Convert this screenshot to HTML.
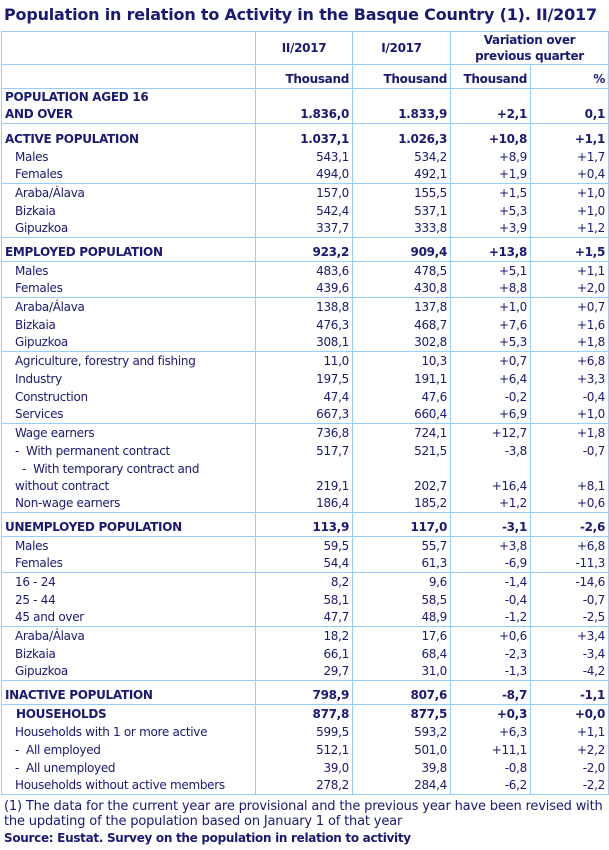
<!DOCTYPE html>
<html><head><meta charset="utf-8">
<style>
html,body{margin:0;padding:0;background:#fff;width:609px;height:850px;overflow:hidden}
body{font-family:"DejaVu Sans","Liberation Sans",sans-serif;color:#1a1a6e;font-size:12px}
.title{position:absolute;left:4px;top:5px;font-size:16px;font-weight:bold;white-space:nowrap;letter-spacing:-0.2px}
table{position:absolute;left:1px;top:31px;border-collapse:collapse;table-layout:fixed;width:607px}
td{padding:0 3px 0 3px;height:18px;line-height:17px;vertical-align:bottom;white-space:nowrap;overflow:hidden;border-left:1px solid #99ccff;border-right:1px solid #99ccff;text-align:right;letter-spacing:-0.3px}
td:first-child{text-align:left;padding-left:13px}
tr.g td{font-weight:bold;height:24px}
tr.g td:first-child{padding-left:3px}
tr.b td{border-bottom:1px solid #99ccff;height:17px}
tr.g.b td{height:23px}
tr.h td{font-weight:bold;text-align:center;vertical-align:middle}
.foot{position:absolute;left:4px;top:799px;font-size:13px;line-height:15px;letter-spacing:-0.17px;white-space:nowrap}
.src{position:absolute;left:4px;top:831px;font-size:12px;font-weight:bold;letter-spacing:-0.3px}
</style></head><body>
<div class="title">Population in relation to Activity in the Basque Country (1). II/2017</div>
<table>
<colgroup><col style="width:254px"><col style="width:97px"><col style="width:98px"><col style="width:80px"><col style="width:78px"></colgroup>
<tr class="h b"><td style="height:30px;border-top:1px solid #99ccff"></td><td style="height:30px;border-top:1px solid #99ccff">II/2017</td><td style="height:30px;border-top:1px solid #99ccff">I/2017</td><td colspan="2" style="height:30px;border-top:1px solid #99ccff;line-height:16px">Variation over<br>previous quarter</td></tr>
<tr class="b" style="font-weight:bold"><td style="height:23px"></td><td style="height:23px">Thousand</td><td style="height:23px">Thousand</td><td style="height:23px">Thousand</td><td style="height:23px">%</td></tr>
<tr class="g b"><td style="height:34px;line-height:17px">POPULATION AGED 16<br>AND OVER</td><td style="height:34px">1.836,0</td><td style="height:34px">1.833,9</td><td style="height:34px">+2,1</td><td style="height:34px">0,1</td></tr>
<tr class="g"><td>ACTIVE POPULATION</td><td>1.037,1</td><td>1.026,3</td><td>+10,8</td><td>+1,1</td></tr>
<tr><td>Males</td><td>543,1</td><td>534,2</td><td>+8,9</td><td>+1,7</td></tr>
<tr class="b"><td>Females</td><td>494,0</td><td>492,1</td><td>+1,9</td><td>+0,4</td></tr>
<tr><td>Araba/Álava</td><td>157,0</td><td>155,5</td><td>+1,5</td><td>+1,0</td></tr>
<tr><td>Bizkaia</td><td>542,4</td><td>537,1</td><td>+5,3</td><td>+1,0</td></tr>
<tr class="b"><td>Gipuzkoa</td><td>337,7</td><td>333,8</td><td>+3,9</td><td>+1,2</td></tr>
<tr class="g b"><td>EMPLOYED POPULATION</td><td>923,2</td><td>909,4</td><td>+13,8</td><td>+1,5</td></tr>
<tr><td>Males</td><td>483,6</td><td>478,5</td><td>+5,1</td><td>+1,1</td></tr>
<tr class="b"><td>Females</td><td>439,6</td><td>430,8</td><td>+8,8</td><td>+2,0</td></tr>
<tr><td>Araba/Álava</td><td>138,8</td><td>137,8</td><td>+1,0</td><td>+0,7</td></tr>
<tr><td>Bizkaia</td><td>476,3</td><td>468,7</td><td>+7,6</td><td>+1,6</td></tr>
<tr class="b"><td>Gipuzkoa</td><td>308,1</td><td>302,8</td><td>+5,3</td><td>+1,8</td></tr>
<tr><td>Agriculture, forestry and fishing</td><td>11,0</td><td>10,3</td><td>+0,7</td><td>+6,8</td></tr>
<tr><td>Industry</td><td>197,5</td><td>191,1</td><td>+6,4</td><td>+3,3</td></tr>
<tr><td>Construction</td><td>47,4</td><td>47,6</td><td>-0,2</td><td>-0,4</td></tr>
<tr class="b"><td>Services</td><td>667,3</td><td>660,4</td><td>+6,9</td><td>+1,0</td></tr>
<tr><td>Wage earners</td><td>736,8</td><td>724,1</td><td>+12,7</td><td>+1,8</td></tr>
<tr><td>- &nbsp;With permanent contract</td><td>517,7</td><td>521,5</td><td>-3,8</td><td>-0,7</td></tr>
<tr><td style="height:35px">&nbsp; - &nbsp;With temporary contract and<br>without contract</td><td style="height:35px">219,1</td><td style="height:35px">202,7</td><td style="height:35px">+16,4</td><td style="height:35px">+8,1</td></tr>
<tr class="b"><td>Non-wage earners</td><td>186,4</td><td>185,2</td><td>+1,2</td><td>+0,6</td></tr>
<tr class="g b"><td>UNEMPLOYED POPULATION</td><td>113,9</td><td>117,0</td><td>-3,1</td><td>-2,6</td></tr>
<tr><td>Males</td><td>59,5</td><td>55,7</td><td>+3,8</td><td>+6,8</td></tr>
<tr class="b"><td>Females</td><td>54,4</td><td>61,3</td><td>-6,9</td><td>-11,3</td></tr>
<tr><td>16 - 24</td><td>8,2</td><td>9,6</td><td>-1,4</td><td>-14,6</td></tr>
<tr><td>25 - 44</td><td>58,1</td><td>58,5</td><td>-0,4</td><td>-0,7</td></tr>
<tr class="b"><td>45 and over</td><td>47,7</td><td>48,9</td><td>-1,2</td><td>-2,5</td></tr>
<tr><td>Araba/Álava</td><td>18,2</td><td>17,6</td><td>+0,6</td><td>+3,4</td></tr>
<tr><td>Bizkaia</td><td>66,1</td><td>68,4</td><td>-2,3</td><td>-3,4</td></tr>
<tr class="b"><td>Gipuzkoa</td><td>29,7</td><td>31,0</td><td>-1,3</td><td>-4,2</td></tr>
<tr class="g b"><td>INACTIVE POPULATION</td><td>798,9</td><td>807,6</td><td>-8,7</td><td>-1,1</td></tr>
<tr style="font-weight:bold"><td style="padding-left:14px">HOUSEHOLDS</td><td>877,8</td><td>877,5</td><td>+0,3</td><td>+0,0</td></tr>
<tr><td>Households with 1 or more active</td><td>599,5</td><td>593,2</td><td>+6,3</td><td>+1,1</td></tr>
<tr><td>- &nbsp;All employed</td><td>512,1</td><td>501,0</td><td>+11,1</td><td>+2,2</td></tr>
<tr><td>- &nbsp;All unemployed</td><td>39,0</td><td>39,8</td><td>-0,8</td><td>-2,0</td></tr>
<tr class="b"><td>Households without active members</td><td>278,2</td><td>284,4</td><td>-6,2</td><td>-2,2</td></tr>
</table>
<div class="foot">(1) The data for the current year are provisional and the previous year have been revised with<br>the updating of the population based on January 1 of that year</div>
<div class="src">Source: Eustat. Survey on the population in relation to activity</div>
</body></html>
